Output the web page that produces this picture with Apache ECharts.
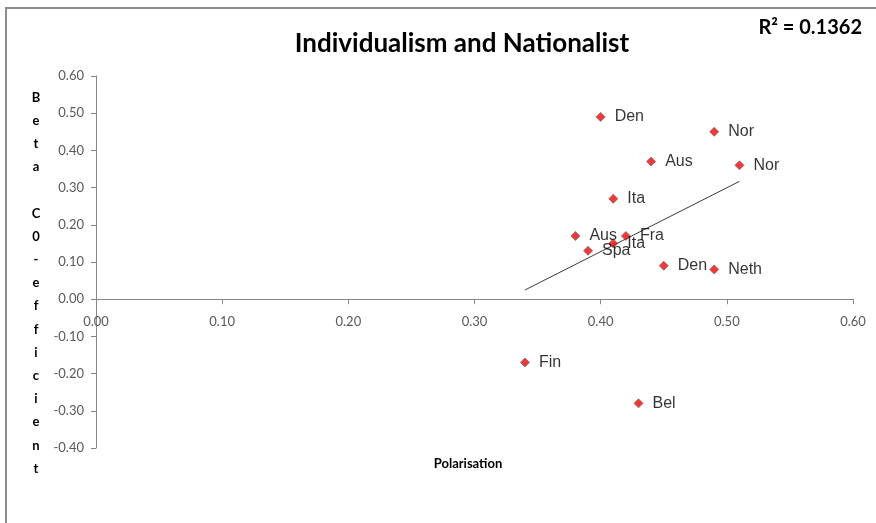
<!DOCTYPE html>
<html>
<head>
<meta charset="utf-8">
<script src="https://cdn.jsdelivr.net/npm/echarts@6/dist/echarts.min.js"></script>
<style>
  html, body { margin: 0; padding: 0; background: #fff; }
  #chart { width: 876px; height: 523px; }
</style>
</head>
<body>
<div id="chart"></div>
<script>
// Country labels, polarisation (x) and beta coefficient (y)
const countries = ['Den', 'Nor', 'Aus', 'Nor', 'Ita', 'Aus', 'Fra', 'Ita', 'Spa', 'Den', 'Neth', 'Fin', 'Bel'];
const polarisation = [0.40, 0.49, 0.44, 0.51, 0.41, 0.38, 0.42, 0.41, 0.39, 0.45, 0.49, 0.34, 0.43];
const betaCoef = [0.49, 0.45, 0.37, 0.36, 0.27, 0.17, 0.17, 0.15, 0.13, 0.09, 0.08, -0.17, -0.28];

const titleText = 'Individualism and Nationalist';
const r2Text = 'R\u00B2 = 0.1362';
const xAxisTitle = 'Polarisation';
const yAxisTitle = 'Beta C0-efficient';

const xMin = 0, xMax = 0.6, yMin = -0.4, yMax = 0.6, step = 0.1;

// Least-squares trend line spanning the observed x range
function trend(xs, ys) {
  const n = xs.length;
  const mx = xs.reduce((a, b) => a + b, 0) / n;
  const my = ys.reduce((a, b) => a + b, 0) / n;
  let sxy = 0, sxx = 0;
  for (let i = 0; i < n; i++) {
    sxy += (xs[i] - mx) * (ys[i] - my);
    sxx += (xs[i] - mx) * (xs[i] - mx);
  }
  const b = sxy / sxx, a = my - b * mx;
  const x0 = Math.min(...xs), x1 = Math.max(...xs);
  return [[x0, a + b * x0], [x1, a + b * x1]];
}

const points = polarisation.map((x, i) => ({ value: [x, betaCoef[i]], name: countries[i] }));

// Stacked vertical axis title: one character per line, the word gap as a blank line
const stackedTitle = yAxisTitle.split(' ').map(w => w.split('').join('\n')).join('\n\n');

const W = 876, H = 523;
const grid = { left: 96, right: 23, top: 76, bottom: 75 };
const plotH = H - grid.top - grid.bottom;
// the horizontal axis (line, ticks and labels) sits on y = 0
const xAxisOffset = -plotH * (0 - yMin) / (yMax - yMin);

const chart = echarts.init(document.getElementById('chart'));
const axisGray = '#868686';
const labelGray = '#595959';
chart.setOption({
  animation: false,
  backgroundColor: '#fff',
  grid: grid,
  xAxis: {
    type: 'value', min: xMin, max: xMax, interval: step,
    offset: xAxisOffset,
    splitLine: { show: false },
    axisLine: { onZero: false, lineStyle: { color: axisGray } },
    axisTick: { show: true, length: 5, lineStyle: { color: axisGray } },
    axisLabel: { formatter: v => v.toFixed(2), color: labelGray, fontFamily: 'Lato', fontSize: 13, margin: 16 }
  },
  yAxis: {
    type: 'value', min: yMin, max: yMax, interval: step,
    splitLine: { show: false },
    axisLine: { show: true, lineStyle: { color: axisGray } },
    axisTick: { show: true, length: 5, lineStyle: { color: axisGray } },
    axisLabel: { formatter: v => v.toFixed(2), color: labelGray, fontFamily: 'Lato', fontSize: 13, margin: 12 }
  },
  series: [
    {
      type: 'line',
      data: trend(polarisation, betaCoef),
      symbol: 'none',
      lineStyle: { color: '#3a3a3a', width: 1 },
      z: 1
    },
    {
      type: 'scatter',
      data: points,
      symbol: 'diamond',
      symbolSize: 9,
      itemStyle: { color: '#ff0000', borderColor: '#6f6f6f', borderWidth: 1 },
      label: {
        show: true, position: 'right', distance: 9,
        formatter: p => p.name,
        color: '#000', fontFamily: 'Liberation Sans', fontSize: 16
      },
      z: 3
    }
  ],
  graphic: [
    { type: 'polyline', shape: { points: [[6, 523], [6, 8], [876, 8]] },
      style: { stroke: '#8c8c8c', lineWidth: 2, fill: null } },
    { type: 'text', x: 462, y: 44,
      style: { text: titleText, fontFamily: 'Lato', fontWeight: 'bold', fontSize: 26, fill: '#000',
               align: 'center', verticalAlign: 'middle' } },
    { type: 'text', x: 862, y: 28,
      style: { text: r2Text, fontFamily: 'Lato', fontWeight: 'bold', fontSize: 20, fill: '#000',
               align: 'right', verticalAlign: 'middle' } },
    { type: 'text', x: 468, y: 464,
      style: { text: xAxisTitle, fontFamily: 'Lato', fontWeight: 'bold', fontSize: 13, fill: '#000',
               align: 'center', verticalAlign: 'middle' } },
    { type: 'text', x: 36, y: 283,
      style: { text: stackedTitle, fontFamily: 'Lato', fontWeight: 'bold', fontSize: 13, lineHeight: 23.2,
               fill: '#000', align: 'center', verticalAlign: 'middle' } }
  ]
});
</script>
</body>
</html>
